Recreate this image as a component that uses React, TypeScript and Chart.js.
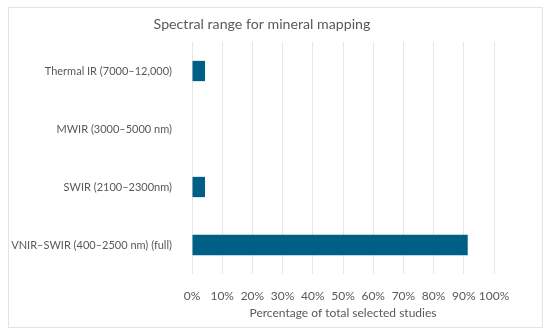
import React, { useEffect, useRef } from "react";
import { Chart, registerables } from "chart.js";
Chart.register(...registerables);

const categories = [
  "Thermal IR (7000–12,000)",
  "MWIR (3000–5000 nm)",
  "SWIR (2100–2300nm)",
  "VNIR–SWIR (400–2500 nm) (full)",
];
const values = [4.3, 0, 4.3, 91.3];
const xTicks = [0, 10, 20, 30, 40, 50, 60, 70, 80, 90, 100];
const chartTitle = "Spectral range for mineral mapping";

const FONT = "Lato";
const TXT = "#595959";

const decorPlugin = {
  id: "decor",
  beforeDraw(chart: any) {
    const ctx = chart.ctx;
    ctx.save();
    ctx.fillStyle = "#ffffff";
    ctx.fillRect(0, 0, chart.width, chart.height);
    ctx.strokeStyle = "#e3e3e3";
    ctx.lineWidth = 1;
    ctx.strokeRect(8.5, 7.5, 534, 320);
    ctx.fillStyle = TXT;
    ctx.font = `14.2px ${FONT}`;
    ctx.textAlign = "center";
    ctx.textBaseline = "middle";
    ctx.fillText(chartTitle, 262, 24);
    ctx.restore();
  },
};

export default function App() {
  const ref = useRef<HTMLCanvasElement>(null);
  useEffect(() => {
    if (!ref.current) return;
    const chart = new Chart(ref.current, {
      type: "bar",
      data: {
        labels: categories,
        datasets: [
          {
            data: values,
            backgroundColor: "#005F86",
            borderWidth: 0,
            categoryPercentage: 1,
            barPercentage: 0.35,
          },
        ],
      },
      plugins: [decorPlugin],
      options: {
        indexAxis: "y",
        animation: false,
        responsive: false,
        devicePixelRatio: 1,
        layout: { padding: { left: 0, right: 56, top: 42, bottom: 16 } },
        plugins: {
          legend: { display: false },
          tooltip: { enabled: false },
          title: { display: false },
        },
        scales: {
          x: {
            min: 0,
            max: 100,
            afterBuildTicks: (s: any) => {
              s.ticks = xTicks.map((v) => ({ value: v }));
            },
            afterFit: (s: any) => {
              s.height = 46;
            },
            ticks: {
              color: TXT,
              font: { family: FONT, size: 12 },
              padding: 15,
              maxRotation: 0,
              minRotation: 0,
              autoSkip: false,
              callback: (v: any) => v + "%",
            },
            grid: { color: "#e6e6e6", drawTicks: false },
            border: { display: false },
            title: {
              display: true,
              text: "Percentage of total selected studies",
              color: TXT,
              font: { family: FONT, size: 12 },
              padding: { top: 0, bottom: 0 },
            },
          },
          y: {
            afterFit: (s: any) => {
              s.width = 192;
            },
            ticks: {
              color: TXT,
              font: { family: FONT, size: 11 },
              padding: 12,
            },
            grid: { display: false },
            border: { display: false },
          },
        },
      },
    } as any);
    return () => chart.destroy();
  }, []);
  return (
    <div style={{ position: "absolute", left: 0, top: 0, width: 550, height: 336 }}>
      <canvas ref={ref} width={550} height={336} />
    </div>
  );
}
